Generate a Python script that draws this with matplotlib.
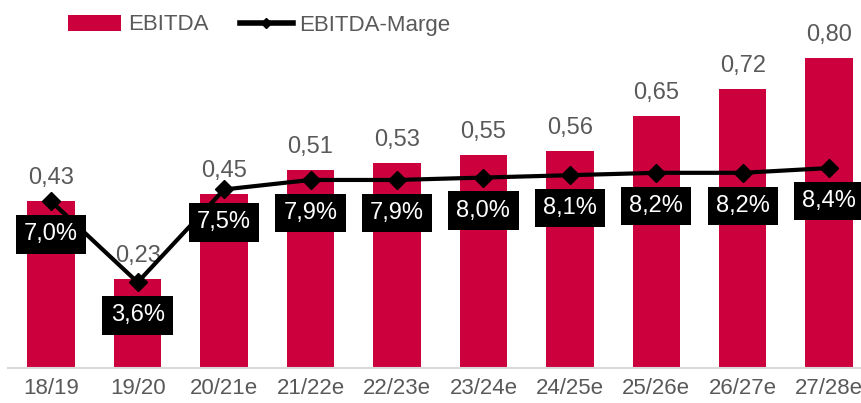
import matplotlib.pyplot as plt
from matplotlib.lines import Line2D
from matplotlib.patches import Patch

plt.rcParams['font.family'] = ['Liberation Sans', 'DejaVu Sans']

# data
years = ['18/19', '19/20', '20/21e', '21/22e', '22/23e', '23/24e', '24/25e', '25/26e', '26/27e', '27/28e']
ebitda = [0.43, 0.23, 0.45, 0.51, 0.53, 0.55, 0.56, 0.65, 0.72, 0.80]
marge = [7.0, 3.6, 7.5, 7.9, 7.9, 8.0, 8.1, 8.2, 8.2, 8.4]

red = '#CC003D'
grey = '#595959'

fig = plt.figure(figsize=(8.62, 4.03), dpi=100)
ax = fig.add_axes([8 / 862, 35 / 403, 1 - 8 / 862, 368 / 403])
x = range(len(years))

ax.bar(x, ebitda, width=0.55, color=red, zorder=2)
ax.set_xlim(-0.5, 9.38)
ax.set_ylim(0, 0.95)

"""value labels above bars"""
for i, v in enumerate(ebitda):
    ax.annotate(f"{v:.2f}".replace('.', ','), xy=(i, v), xytext=(0, 23),
                textcoords='offset pixels', ha='center', va='center',
                fontsize=17, color=grey, zorder=3)

"""axis styling"""
for s in ['top', 'right', 'left']:
    ax.spines[s].set_visible(False)
ax.spines['bottom'].set_color('#D9D9D9')
ax.spines['bottom'].set_linewidth(1.5)
ax.set_yticks([])
ax.set_xticks(list(x))
ax.set_xticklabels(years, fontsize=16, color=grey)
ax.tick_params(axis='x', length=0, pad=7)

"""margin line on second axis"""
ax2 = ax.twinx()
ax2.set_ylim(0, 15.46)
ax2.plot(x, marge, color='black', linewidth=3, marker='D', markersize=9, zorder=4)
ax2.axis('off')
for i, m in enumerate(marge):
    ax2.annotate(f"{m:.1f}%".replace('.', ','), xy=(i, m), xytext=(0, -33),
                 textcoords='offset pixels', ha='center', va='center',
                 fontsize=17, color='white', zorder=5,
                 bbox=dict(facecolor='black', edgecolor='none', boxstyle='square,pad=0.35'))

"""legend"""
handles = [Patch(facecolor=red), Line2D([0], [0], color='black', linewidth=4, marker='D', markersize=5)]
leg = fig.legend(handles, ['EBITDA', 'EBITDA-Marge'], loc='center left', bbox_to_anchor=(48 / 862, 1 - 25 / 403),
                 ncol=2, frameon=False, fontsize=16, handlelength=2.4, handletextpad=0.3, columnspacing=1.4)
for t in leg.get_texts():
    t.set_color(grey)

plt.savefig('out.png', dpi=100)
